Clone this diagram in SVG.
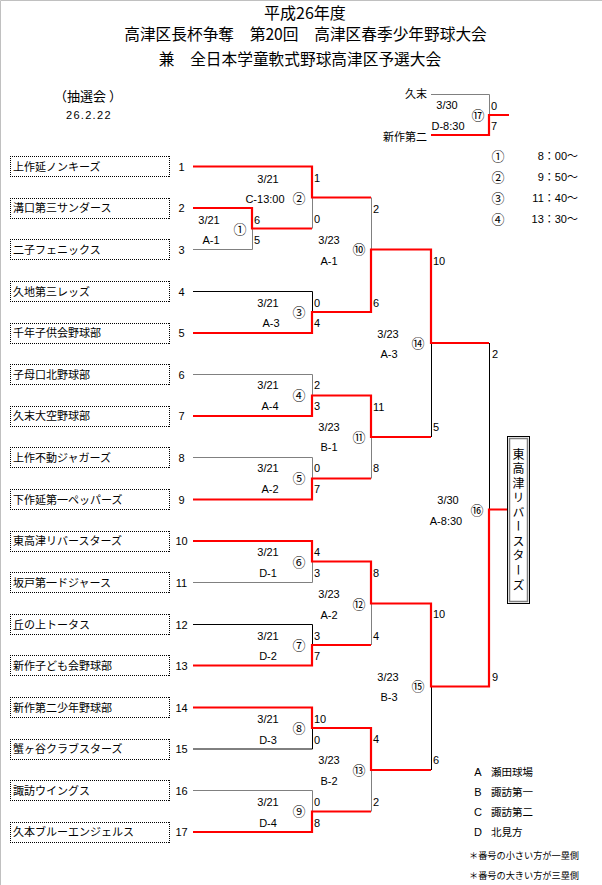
<svg xmlns="http://www.w3.org/2000/svg" xmlns:xlink="http://www.w3.org/1999/xlink" width="602" height="885" viewBox="0 0 602 885">
<style>
.r{fill:none;stroke:#ff0000;stroke-width:2.2}
.k{fill:none;stroke:#000;stroke-width:1}
.g{fill:none;stroke:#808080;stroke-width:1}
.t{font-family:"Noto Sans CJK JP",sans-serif;font-size:11px;fill:#000}
.n{font-family:"Liberation Sans","Noto Sans CJK JP",sans-serif;font-size:11px;fill:#000}
.c{font-family:"Noto Sans CJK JP",sans-serif;font-size:13px;fill:#000;text-anchor:middle}
.m{text-anchor:middle}
.e{text-anchor:end}
.ttl{font-family:"Noto Sans CJK JP",sans-serif;font-size:15.7px;fill:#000;text-anchor:middle}
</style>
<defs>
<pattern id="dh" width="2" height="1" patternUnits="userSpaceOnUse"><rect width="1" height="1" fill="#000"/></pattern>
<pattern id="dv" width="1" height="2" patternUnits="userSpaceOnUse"><rect width="1" height="1" fill="#000"/></pattern>
<g id="dbox">
<rect x="0" y="0" width="160" height="1" fill="url(#dh)"/>
<rect x="0" y="20" width="160" height="1" fill="url(#dh)"/>
<rect x="0" y="0" width="1" height="21" fill="url(#dv)"/>
<rect x="159" y="0" width="1" height="21" fill="url(#dv)"/>
</g>
</defs>
<rect x="0" y="0" width="602" height="885" fill="#fff"/>
<path d="M0.5,885 V0.5 H602" fill="none" stroke="#c0c0c0" stroke-width="1"/>

<g id="title">
<text class="ttl" x="305" y="18.5" style="font-size:16px">平成26年度</text>
<text class="ttl" x="305.5" y="39.5">高津区長杯争奪　第20回　高津区春季少年野球大会</text>
<text class="ttl" x="300" y="65">兼　全日本学童軟式野球高津区予選大会</text>
</g>
<g id="draw-info">
<text class="t" x="54" y="101" style="font-size:13px">（抽選会 ）</text>
<text class="n" x="66" y="119" letter-spacing="1.3">26.2.22</text>
</g>

<g id="time-legend">
<text class="c" x="498" y="160.5">①</text><text class="n e" x="578" y="160">8：00～</text>
<text class="c" x="498" y="181.8">②</text><text class="n e" x="578" y="181.3">9：50～</text>
<text class="c" x="498" y="202.8">③</text><text class="n e" x="578" y="202.3">11：40～</text>
<text class="c" x="498" y="223.8">④</text><text class="n e" x="578" y="223.3">13：30～</text>
</g>

<g id="connectors">
<path class="g" d="M431,94.5 H489.5 V115"/>
<path class="r" d="M431,135 H489 V115 H509"/>
<path class="g" d="M193,249.5 H252.5 V228.5"/>
<path class="g" d="M312.5,228.5 V197.5"/>
<path class="k" d="M193,291.5 H312.5 V312"/>
<path class="g" d="M371.5,197.5 V249.5"/>
<path class="g" d="M193,374.5 H312.5 V395.5"/>
<path class="g" d="M193,457.5 H312.5 V478.5"/>
<path class="g" d="M371.5,478.5 V437"/>
<path class="k" d="M431.5,343 V437"/>
<path class="k" d="M489.5,343 V509.5"/>
<path class="g" d="M193,582.5 H312.5 V561.5"/>
<path class="k" d="M193,624.5 H312.5 V645"/>
<path class="g" d="M371.5,645 V603.5"/>
<path class="k" d="M193,749 H312.5 V728"/>
<path class="g" d="M193,790.5 H312.5 V811.5"/>
<path class="g" d="M371.5,811.5 V770"/>
<path class="k" d="M431.5,770 V686.5"/>
<path class="r" d="M193,166.5 H312 V197.5 H371"/>
<path class="r" d="M193,208 H252 V228.5 H312"/>
<path class="r" d="M193,333 H312 V312 H371 V249.5 H431 V343 H489"/>
<path class="r" d="M193,416 H312 V395.5 H371 V437 H431"/>
<path class="r" d="M193,499.5 H312 V478.5 H371"/>
<path class="r" d="M193,541 H312 V561.5 H371 V603.5 H431 V686.5 H489 V509.5 H507.5"/>
<path class="r" d="M193,665.5 H312 V645 H371"/>
<path class="r" d="M193,707.5 H312 V728 H371 V770 H431"/>
<path class="r" d="M193,832 H312 V811.5 H371"/>
</g>

<g id="team-1"><use xlink:href="#dbox" transform="translate(10,156)"/><text class="t" x="13" y="170.5">上作延ノンキーズ</text><text class="n m" x="181.5" y="170.5">1</text></g>
<g id="team-2"><use xlink:href="#dbox" transform="translate(10,198)"/><text class="t" x="13" y="212">溝口第三サンダース</text><text class="n m" x="181.5" y="212">2</text></g>
<g id="team-3"><use xlink:href="#dbox" transform="translate(10,239)"/><text class="t" x="13" y="253.5">二子フェニックス</text><text class="n m" x="181.5" y="253.5">3</text></g>
<g id="team-4"><use xlink:href="#dbox" transform="translate(10,281)"/><text class="t" x="13" y="295.5">久地第三レッズ</text><text class="n m" x="181.5" y="295.5">4</text></g>
<g id="team-5"><use xlink:href="#dbox" transform="translate(10,323)"/><text class="t" x="13" y="337">千年子供会野球部</text><text class="n m" x="181.5" y="337">5</text></g>
<g id="team-6"><use xlink:href="#dbox" transform="translate(10,364)"/><text class="t" x="13" y="378.5">子母口北野球部</text><text class="n m" x="181.5" y="378.5">6</text></g>
<g id="team-7"><use xlink:href="#dbox" transform="translate(10,406)"/><text class="t" x="13" y="420">久末大空野球部</text><text class="n m" x="181.5" y="420">7</text></g>
<g id="team-8"><use xlink:href="#dbox" transform="translate(10,447)"/><text class="t" x="13" y="461.5">上作不動ジャガーズ</text><text class="n m" x="181.5" y="461.5">8</text></g>
<g id="team-9"><use xlink:href="#dbox" transform="translate(10,489)"/><text class="t" x="13" y="503.5">下作延第一ペッパーズ</text><text class="n m" x="181.5" y="503.5">9</text></g>
<g id="team-10"><use xlink:href="#dbox" transform="translate(10,531)"/><text class="t" x="13" y="545">東高津リバースターズ</text><text class="n m" x="181.5" y="545">10</text></g>
<g id="team-11"><use xlink:href="#dbox" transform="translate(10,572)"/><text class="t" x="13" y="586.5">坂戸第一ドジャース</text><text class="n m" x="181.5" y="586.5">11</text></g>
<g id="team-12"><use xlink:href="#dbox" transform="translate(10,614)"/><text class="t" x="13" y="628.5">丘の上トータス</text><text class="n m" x="181.5" y="628.5">12</text></g>
<g id="team-13"><use xlink:href="#dbox" transform="translate(10,655)"/><text class="t" x="13" y="669.5">新作子ども会野球部</text><text class="n m" x="181.5" y="669.5">13</text></g>
<g id="team-14"><use xlink:href="#dbox" transform="translate(10,697)"/><text class="t" x="13" y="711.5">新作第二少年野球部</text><text class="n m" x="181.5" y="711.5">14</text></g>
<g id="team-15"><use xlink:href="#dbox" transform="translate(10,739)"/><text class="t" x="13" y="753">蟹ヶ谷クラブスターズ</text><text class="n m" x="181.5" y="753">15</text></g>
<g id="team-16"><use xlink:href="#dbox" transform="translate(10,780)"/><text class="t" x="13" y="794.5">諏訪ウイングス</text><text class="n m" x="181.5" y="794.5">16</text></g>
<g id="team-17"><use xlink:href="#dbox" transform="translate(10,822)"/><text class="t" x="13" y="836">久本ブルーエンジェルス</text><text class="n m" x="181.5" y="836">17</text></g>

<g id="match-1"><text class="n" x="254" y="223.5">6</text><text class="n" x="254" y="244">5</text><text class="n m" x="209" y="224">3/21</text><text class="n m" x="211" y="244">A-1</text><text class="c" x="240" y="233.5">①</text></g>
<g id="match-2"><text class="n" x="314" y="182">1</text><text class="n" x="314" y="223">0</text><text class="n m" x="268" y="183">3/21</text><text class="n m" x="265" y="203">C-13:00</text><text class="c" x="299" y="202.5">②</text></g>
<g id="match-3"><text class="n" x="314" y="306.5">0</text><text class="n" x="314" y="327">4</text><text class="n m" x="268" y="306.5">3/21</text><text class="n m" x="271" y="327">A-3</text><text class="c" x="299" y="316.5">③</text></g>
<g id="match-4"><text class="n" x="314" y="389">2</text><text class="n" x="314" y="410">3</text><text class="n m" x="268" y="389">3/21</text><text class="n m" x="270" y="410">A-4</text><text class="c" x="299" y="400">④</text></g>
<g id="match-5"><text class="n" x="314" y="472">0</text><text class="n" x="314" y="493">7</text><text class="n m" x="268" y="472">3/21</text><text class="n m" x="270" y="493">A-2</text><text class="c" x="299" y="482.5">⑤</text></g>
<g id="match-6"><text class="n" x="314" y="556">4</text><text class="n" x="314" y="577">3</text><text class="n m" x="268" y="556">3/21</text><text class="n m" x="268" y="577">D-1</text><text class="c" x="299" y="566.5">⑥</text></g>
<g id="match-7"><text class="n" x="314" y="639.5">3</text><text class="n" x="314" y="660">7</text><text class="n m" x="268" y="639.5">3/21</text><text class="n m" x="268" y="660">D-2</text><text class="c" x="299" y="649.5">⑦</text></g>
<g id="match-8"><text class="n" x="314" y="723">10</text><text class="n" x="314" y="744">0</text><text class="n m" x="268" y="723">3/21</text><text class="n m" x="268" y="744">D-3</text><text class="c" x="299" y="732.5">⑧</text></g>
<g id="match-9"><text class="n" x="314" y="805.5">0</text><text class="n" x="314" y="826.5">8</text><text class="n m" x="268" y="805.5">3/21</text><text class="n m" x="268" y="826.5">D-4</text><text class="c" x="299" y="816">⑨</text></g>
<g id="match-10"><text class="n" x="373" y="213">2</text><text class="n" x="373" y="306.5">6</text><text class="n m" x="329" y="244">3/23</text><text class="n m" x="329" y="265">A-1</text><text class="c" x="359" y="254">⑩</text></g>
<g id="match-11"><text class="n" x="373" y="410.5">11</text><text class="n" x="373" y="472">8</text><text class="n m" x="329" y="431">3/23</text><text class="n m" x="329" y="451">B-1</text><text class="c" x="359" y="441.5">⑪</text></g>
<g id="match-12"><text class="n" x="373" y="577">8</text><text class="n" x="373" y="639.5">4</text><text class="n m" x="329" y="598">3/23</text><text class="n m" x="329" y="619">A-2</text><text class="c" x="359" y="608.5">⑫</text></g>
<g id="match-13"><text class="n" x="373" y="743">4</text><text class="n" x="373" y="805.5">2</text><text class="n m" x="329" y="764">3/23</text><text class="n m" x="329" y="784.5">B-2</text><text class="c" x="359" y="774.5">⑬</text></g>
<g id="match-14"><text class="n" x="433" y="264.5">10</text><text class="n" x="433" y="431">5</text><text class="n m" x="388" y="338">3/23</text><text class="n m" x="389" y="358">A-3</text><text class="c" x="418" y="347.5">⑭</text></g>
<g id="match-15"><text class="n" x="433" y="618">10</text><text class="n" x="433" y="764">6</text><text class="n m" x="388" y="680.5">3/23</text><text class="n m" x="389" y="701">B-3</text><text class="c" x="418" y="691">⑮</text></g>
<g id="match-16"><text class="n" x="492" y="358">2</text><text class="n" x="492" y="680.5">9</text><text class="n m" x="448" y="504">3/30</text><text class="n m" x="446" y="524.5">A-8:30</text><text class="c" x="477" y="514.5">⑯</text></g>
<g id="match-17"><text class="t e" x="427" y="98">久末</text><text class="t e" x="427" y="140.5">新作第二</text><text class="n" x="491" y="110">0</text><text class="n" x="491" y="130">7</text><text class="n m" x="447" y="109">3/30</text><text class="n m" x="448" y="129.5">D-8:30</text><text class="c" x="478" y="119.5">⑰</text></g>

<g id="champion">
<rect x="507.5" y="436.5" width="22" height="167" fill="#fff" stroke="#000" stroke-width="1"/>
<rect x="509.5" y="438.5" width="18" height="163" fill="none" stroke="#808080" stroke-width="1.5"/>
<text x="518.5" y="448" style="font-family:'Noto Sans CJK JP',sans-serif;font-size:12px;writing-mode:vertical-rl;text-orientation:upright;letter-spacing:2.56px">東高津リバースターズ</text>
</g>

<g id="venue-legend">
<text class="n m" x="478" y="775.7">A</text><text class="t" x="491" y="775.7" style="font-size:10.5px">瀬田球場</text>
<text class="n m" x="478" y="795.7">B</text><text class="t" x="491" y="795.7" style="font-size:10.5px">諏訪第一</text>
<text class="n m" x="478" y="815.7">C</text><text class="t" x="491" y="815.7" style="font-size:10.5px">諏訪第二</text>
<text class="n m" x="478" y="835.7">D</text><text class="t" x="491" y="835.7" style="font-size:10.5px">北見方</text>
<text class="t" x="469" y="859" style="font-size:9.2px" textLength="110" lengthAdjust="spacing">＊番号の小さい方が一塁側</text>
<text class="t" x="469" y="879" style="font-size:9.2px" textLength="110" lengthAdjust="spacing">＊番号の大きい方が三塁側</text>
</g>
</svg>
